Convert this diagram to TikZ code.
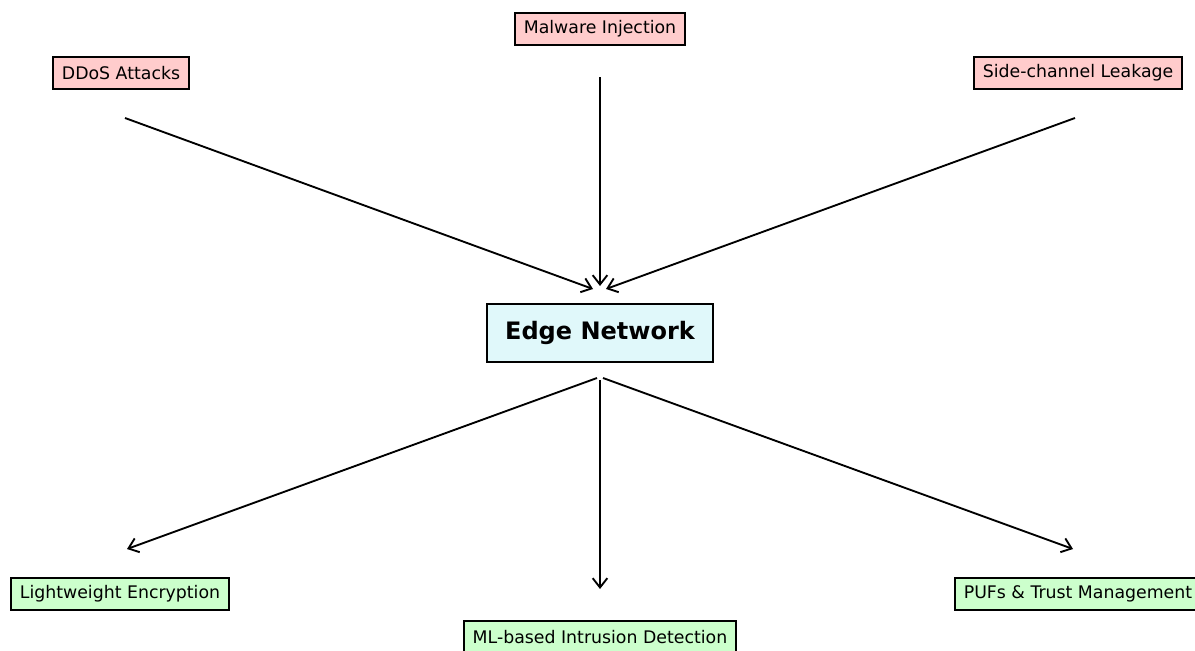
\documentclass[tikz,border=0pt]{standalone}
\usepackage{fontspec}
\setmainfont{DejaVu Sans}
\usetikzlibrary{arrows.meta}
\definecolor{threatpink}{HTML}{FFCCCC}
\definecolor{defensegreen}{HTML}{CCFFCC}
\definecolor{edgecyan}{HTML}{E0F8FA}
\tikzset{
	threatbox/.style={draw=black, line width=1.5pt, fill=threatpink, inner xsep=6.4pt, minimum height=24pt, font=\fontsize{13}{15}\selectfont},
	defensebox/.style={draw=black, line width=1.5pt, fill=defensegreen, inner xsep=6.4pt, minimum height=24pt, font=\fontsize{13}{15}\selectfont},
	edgebox/.style={draw=black, line width=1.5pt, fill=edgecyan, inner xsep=13.7pt, minimum height=43.5pt, font=\fontsize{18}{21}\selectfont\bfseries},
	flowarrow/.style={line width=1.4pt, -{Straight Barb[length=7pt,width=11pt,line width=1.4pt]}}
}

\begin{document}
\begin{tikzpicture}[x=0.75pt, y=-0.75pt]
	\clip (0,0) rectangle (1195,650);
	\fill[white] (0,0) rectangle (1195,650);

	% center
	\node[edgebox] (edge) at (600,333) {Edge Network};

	% attacks
	\node[threatbox] (malware) at (600,29) {Malware Injection};
	\node[threatbox] (ddos) at (121,73) {DDoS Attacks};
	\node[threatbox] (side) at (1078,73) {Side-channel Leakage};

	% defenses
	\node[defensebox] (light) at (120,594) {Lightweight Encryption};
	\node[defensebox] (ml) at (600,637) {ML-based Intrusion Detection};
	\node[defensebox] (puf) at (1078,594) {PUFs \& Trust Management};

	% arrow ends
	\coordinate (ddos-tail) at (125,118);
	\coordinate (ddos-head) at (593,289);
	\coordinate (malware-tail) at (600,77);
	\coordinate (malware-head) at (600,286);
	\coordinate (side-tail) at (1075,118);
	\coordinate (side-head) at (606,289);
	\coordinate (light-tail) at (597,378);
	\coordinate (light-head) at (127,549);
	\coordinate (ml-tail) at (600,380);
	\coordinate (ml-head) at (600,589);
	\coordinate (puf-tail) at (603,378);
	\coordinate (puf-head) at (1073,549);

	\foreach \n in {ddos,malware,side,light,ml,puf}
		\draw[flowarrow] (\n-tail) -- (\n-head);

\end{tikzpicture}
\end{document}
